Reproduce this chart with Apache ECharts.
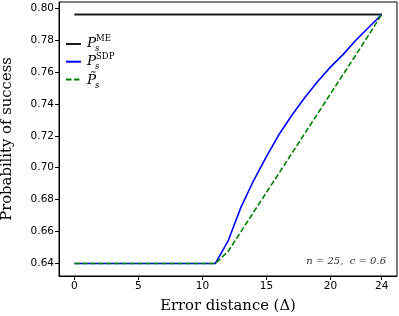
<!DOCTYPE html>
<html><head><meta charset="utf-8">
<script src="https://cdn.jsdelivr.net/npm/echarts@6/dist/echarts.min.js"></script>
<style>html,body{margin:0;padding:0;background:#fff}#c{width:399px;height:316px}</style>
</head><body><div id="c"></div>
<script>
const xValues = [0,1,2,3,4,5,6,7,8,9,10,11,12,13,14,15,16,17,18,19,20,21,22,23,24];
const pME = [0.796,0.796,0.796,0.796,0.796,0.796,0.796,0.796,0.796,0.796,0.796,0.796,0.796,0.796,0.796,0.796,0.796,0.796,0.796,0.796,0.796,0.796,0.796,0.796,0.796];
const pSDP = [0.64,0.64,0.64,0.64,0.64,0.64,0.64,0.64,0.64,0.64,0.64,0.64,0.654,0.675,0.692,0.707,0.721,0.733,0.744,0.754,0.763,0.771,0.780,0.788,0.796];
const pTilde = [0.64,0.64,0.64,0.64,0.64,0.64,0.64,0.64,0.64,0.64,0.64,0.64,0.6475,0.6598,0.6722,0.6845,0.6968,0.7092,0.7215,0.7338,0.7462,0.7585,0.7708,0.7832,0.796];
const xTicks = [0,5,10,15,20,24];
const yTicks = [0.64,0.66,0.68,0.70,0.72,0.74,0.76,0.78,0.80];

const chart = echarts.init(document.getElementById('c'), null, {renderer:'canvas'});
const pair = arr => xValues.map((x,i)=>[x,arr[i]]);
const tickFont = {fontFamily:'DejaVu Sans', fontSize:10.5, color:'#000'};
const serif = 'DejaVu Serif';
chart.setOption({
  animation:false,
  grid:{left:59,right:2,top:2,bottom:40,outerBoundsMode:'none',containLabel:false,show:true,borderColor:'#000',borderWidth:1,backgroundColor:'transparent'},
  xAxis:{type:'value',min:-1.2,max:25.2,
    name:'Error distance (Δ)',nameLocation:'middle',nameGap:23,
    nameTextStyle:{fontFamily:serif,fontSize:14.8,color:'#000'},
    axisLine:{show:true,onZero:false,lineStyle:{color:'#000',width:1}},
    axisTick:{show:true,length:4,lineStyle:{color:'#000'},customValues:xTicks},
    axisLabel:Object.assign({customValues:xTicks,margin:5},tickFont),
    splitLine:{show:false}},
  yAxis:{type:'value',min:0.6322,max:0.8038,
    name:'Probability of success',nameLocation:'middle',nameGap:44,
    nameTextStyle:{fontFamily:serif,fontSize:14.8,color:'#000'},
    axisLine:{show:true,onZero:false,lineStyle:{color:'#000',width:1}},
    axisTick:{show:true,length:4,lineStyle:{color:'#000'},customValues:yTicks},
    axisLabel:Object.assign({customValues:yTicks,margin:5,formatter:v=>v.toFixed(2)},tickFont),
    splitLine:{show:false}},
  legend:{show:true,left:65,top:40,padding:0,orient:'vertical',itemWidth:15,itemHeight:8,itemGap:10.5,
    formatter:()=>'',textStyle:{fontSize:6},itemStyle:{opacity:0},
    data:['ME','SDP','Tilde']},
  series:[
    {name:'ME',type:'line',data:pair(pME),symbol:'none',lineStyle:{color:'#1a1a1a',width:2},itemStyle:{color:'#1a1a1a'}},
    {name:'SDP',type:'line',data:pair(pSDP),symbol:'none',lineStyle:{color:'#0000ff',width:1.6},itemStyle:{color:'#0000ff'}},
    {name:'Tilde',type:'line',data:pair(pTilde),symbol:'none',lineStyle:{color:'#008000',width:1.6,type:[5.5,2.4]},itemStyle:{color:'#008000'}}
  ],
  graphic:[
    {type:'text',left:87,top:36,style:{text:'P',font:'italic 13.5px "DejaVu Serif"',fill:'#000'}},
    {type:'text',left:96,top:34,style:{text:'ME',font:'8.5px "DejaVu Serif"',fill:'#000'}},
    {type:'text',left:95,top:44,style:{text:'s',font:'italic 8.5px "DejaVu Serif"',fill:'#000'}},
    {type:'text',left:87,top:54,style:{text:'P',font:'italic 13.5px "DejaVu Serif"',fill:'#000'}},
    {type:'text',left:96,top:52,style:{text:'SDP',font:'8.5px "DejaVu Serif"',fill:'#000'}},
    {type:'text',left:95,top:62,style:{text:'s',font:'italic 8.5px "DejaVu Serif"',fill:'#000'}},
    {type:'text',left:87,top:73,style:{text:'P̃',font:'italic 13.5px "DejaVu Serif"',fill:'#000'}},
    {type:'text',left:95,top:81,style:{text:'s',font:'italic 8.5px "DejaVu Serif"',fill:'#000'}},
    {type:'text',right:13,top:256,style:{text:'n = 25,  c = 0.6',font:'italic 10px "DejaVu Serif"',fill:'#333'}}
  ]
});
</script></body></html>
